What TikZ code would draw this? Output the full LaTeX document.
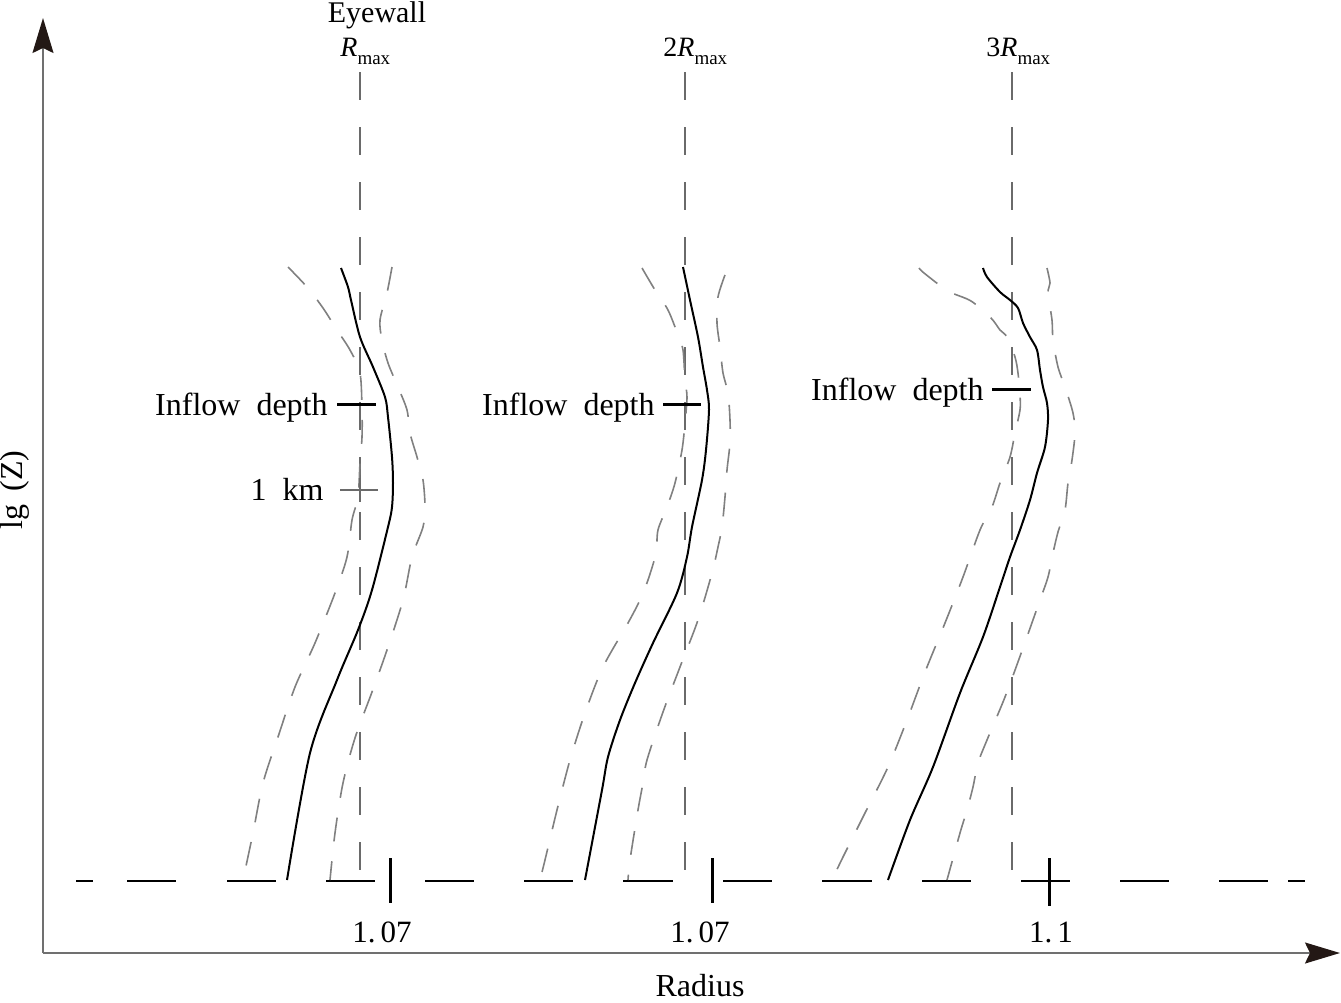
\documentclass[tikz,border=0pt]{standalone}
\usepackage{fontspec}
\setmainfont{Liberation Serif}
\usetikzlibrary{arrows.meta}
\definecolor{axisgray}{HTML}{707070}
\definecolor{tipcol}{HTML}{231815}
\definecolor{envgray}{HTML}{808080}
\definecolor{refgray}{HTML}{6A6A6A}
\begin{document}
\begin{tikzpicture}[x=0.5pt,y=-0.5pt,
  axisline/.style={draw=axisgray,line width=0.8pt,
    -{Stealth[length=17.5pt,width=10.5pt,inset=2.5pt,color=tipcol]}},
  refline/.style={draw=refgray,line width=0.6pt,dash pattern=on 14pt off 13.5pt},
  envline/.style={draw=envgray,line width=0.8pt,dash pattern=on 12pt off 10pt,smooth,tension=0.5},
  meanline/.style={draw=black,line width=1pt,smooth,tension=0.5},
  baseseg/.style={draw=black,line width=1pt},
  bigtick/.style={draw=black,line width=1.5pt},
  depthtick/.style={draw=black,line width=1.5pt},
  kmtick/.style={draw=refgray,line width=0.7pt},
  lab/.style={inner sep=0pt,font=\fontsize{16pt}{18pt}\selectfont},
  numlab/.style={inner sep=0pt,font=\fontsize{15.5pt}{17pt}\selectfont},
  toplab/.style={inner sep=0pt,font=\fontsize{14pt}{16pt}\selectfont}]
\useasboundingbox (0,0) rectangle (1341,1003);

% axes
\coordinate (O) at (43,953);
\coordinate (ytop) at (43,18);
\coordinate (xend) at (1340,953);
\draw[axisline] (O) -- (ytop);
\draw[axisline] (O) -- (xend);
\node[lab,rotate=90] (ylab) at (15,490) {lg\hspace{0.4em}(Z)};
\node[lab,anchor=base] (xlab) at (700,996) {Radius};

% top labels
\node[toplab,anchor=base,font=\fontsize{15pt}{17pt}\selectfont] (eyewall) at (377,22) {Eyewall};
\newcommand{\rmaxtxt}{\textit{R}\raisebox{-4pt}{\fontsize{9.5pt}{10pt}\selectfont max}}
\node[toplab,anchor=base west] (r1) at (340,56) {\rmaxtxt};
\node[toplab,anchor=base west] (r2) at (663,56) {2\rmaxtxt};
\node[toplab,anchor=base west] (r3) at (986,56) {3\rmaxtxt};

% reference vertical lines
\coordinate (v1t) at (360,72); \coordinate (v1b) at (360,881);
\coordinate (v2t) at (685,72); \coordinate (v2b) at (685,881);
\coordinate (v3t) at (1012,72); \coordinate (v3b) at (1012,881);
\draw[refline] (v1t) -- (v1b);
\draw[refline] (v2t) -- (v2b);
\draw[refline] (v3t) -- (v3b);

% baseline dashes
\foreach \a/\b in {76/93,127/176,227/276,326/375,425/474,524/573,623/673,723/772,822/872,922/971,1021/1070,1120/1169,1219/1268,1288/1305}
  \draw[baseseg] (\a,881) -- (\b,881);

% ticks on baseline
\draw[bigtick] (390,858) -- (390,903);
\draw[bigtick] (712,858) -- (712,903);
\draw[bigtick] (1049,858) -- (1049,906);
\node[numlab,anchor=base] (n1) at (382,942) {1.\,07};
\node[numlab,anchor=base] (n2) at (700,942) {1.\,07};
\node[numlab,anchor=base] (n3) at (1051,942) {1.\,1};

% panel 1
\draw[meanline] plot coordinates {(341,268) (348,287) (351,300) (360,337) (373,367) (385,397) (388,417) (392,457) (393,483) (392,507) (388,527) (372,590) (358,630) (337,680) (310,753) (287,880)};
\draw[envline] plot coordinates {(288,267) (307,287) (323,308) (337,330) (350,350) (360,373) (362,410) (362,437) (360,463) (358,497) (352,520) (347,557) (335,593) (315,643) (295,687) (278,737) (263,783) (253,833) (243,880)};
\draw[envline] plot coordinates {(392,267) (387,293) (380,320) (382,340) (388,363) (398,387) (407,410) (410,433) (417,457) (423,480) (425,507) (423,527) (412,557) (403,600) (387,650) (372,692) (355,738) (343,783) (335,833) (330,880)};

% panel 2
\draw[meanline] plot coordinates {(683,267) (690,300) (698,337) (703,367) (707,390) (709,410) (706,450) (702,480) (692,527) (687,557) (677,593) (653,643) (635,683) (620,720) (608,757) (602,790) (585,880)};
\draw[envline] plot coordinates {(642,268) (655,290) (668,310) (678,335) (683,350) (685,380) (687,397) (685,423) (682,450) (675,483) (667,507) (658,530) (656,553) (648,580) (640,600) (628,623) (603,667) (585,713) (570,760) (557,810) (545,860) (540,880)};
\draw[envline] plot coordinates {(725,275) (718,297) (717,323) (720,347) (723,373) (728,393) (730,420) (730,443) (727,470) (725,497) (722,527) (718,547) (712,573) (698,620) (680,667) (663,712) (647,760) (643,783) (638,810) (630,860) (628,880)};

% panel 3
\draw[meanline] plot coordinates {(983,268) (987,277) (1000,292) (1010,300) (1018,308) (1023,323) (1030,337) (1037,350) (1040,370) (1043,387) (1047,403) (1048,420) (1045,447) (1037,473) (1030,500) (1020,530) (1010,557) (1000,587) (983,637) (960,693) (933,767) (910,820) (888,880)};
\draw[envline] plot coordinates {(919,268) (924,273) (948,291) (971,301) (991,318) (1000,330) (1007,337) (1015,357) (1018,373) (1020,395) (1020,410) (1015,433) (1010,457) (1000,483) (992,507) (980,530) (963,577) (945,623) (925,672) (907,720) (888,767) (865,813) (843,857) (832,880)};
\draw[envline] plot coordinates {(1047,268) (1050,283) (1048,293) (1052,320) (1053,340) (1058,367) (1065,387) (1073,413) (1075,433) (1072,460) (1068,483) (1065,510) (1058,532) (1053,553) (1048,577) (1040,600) (1023,648) (1005,697) (987,740) (978,763) (973,787) (967,810) (960,833) (947,880)};

% inflow depth and 1 km labels
\node[lab,anchor=base east] (d1) at (328,415) {Inflow\hspace{0.5em}depth};
\node[lab,anchor=base east] (d2) at (655,415) {Inflow\hspace{0.5em}depth};
\node[lab,anchor=base east] (d3) at (984,400) {Inflow\hspace{0.5em}depth};
\node[lab,anchor=base east] (km) at (324,500) {1\hspace{0.5em}km};
\coordinate (t1a) at (337,404); \coordinate (t1b) at (376,404);
\coordinate (t2a) at (663,404); \coordinate (t2b) at (701,404);
\coordinate (t3a) at (992,389); \coordinate (t3b) at (1031,389);
\draw[depthtick] (t1a) -- (t1b);
\draw[depthtick] (t2a) -- (t2b);
\draw[depthtick] (t3a) -- (t3b);
\coordinate (k1a) at (340,490); \coordinate (k1b) at (378,490);
\coordinate (k2a) at (360,478); \coordinate (k2b) at (360,502);
\draw[kmtick] (k1a) -- (k1b);
\draw[kmtick] (k2a) -- (k2b);
\end{tikzpicture}
\end{document}
